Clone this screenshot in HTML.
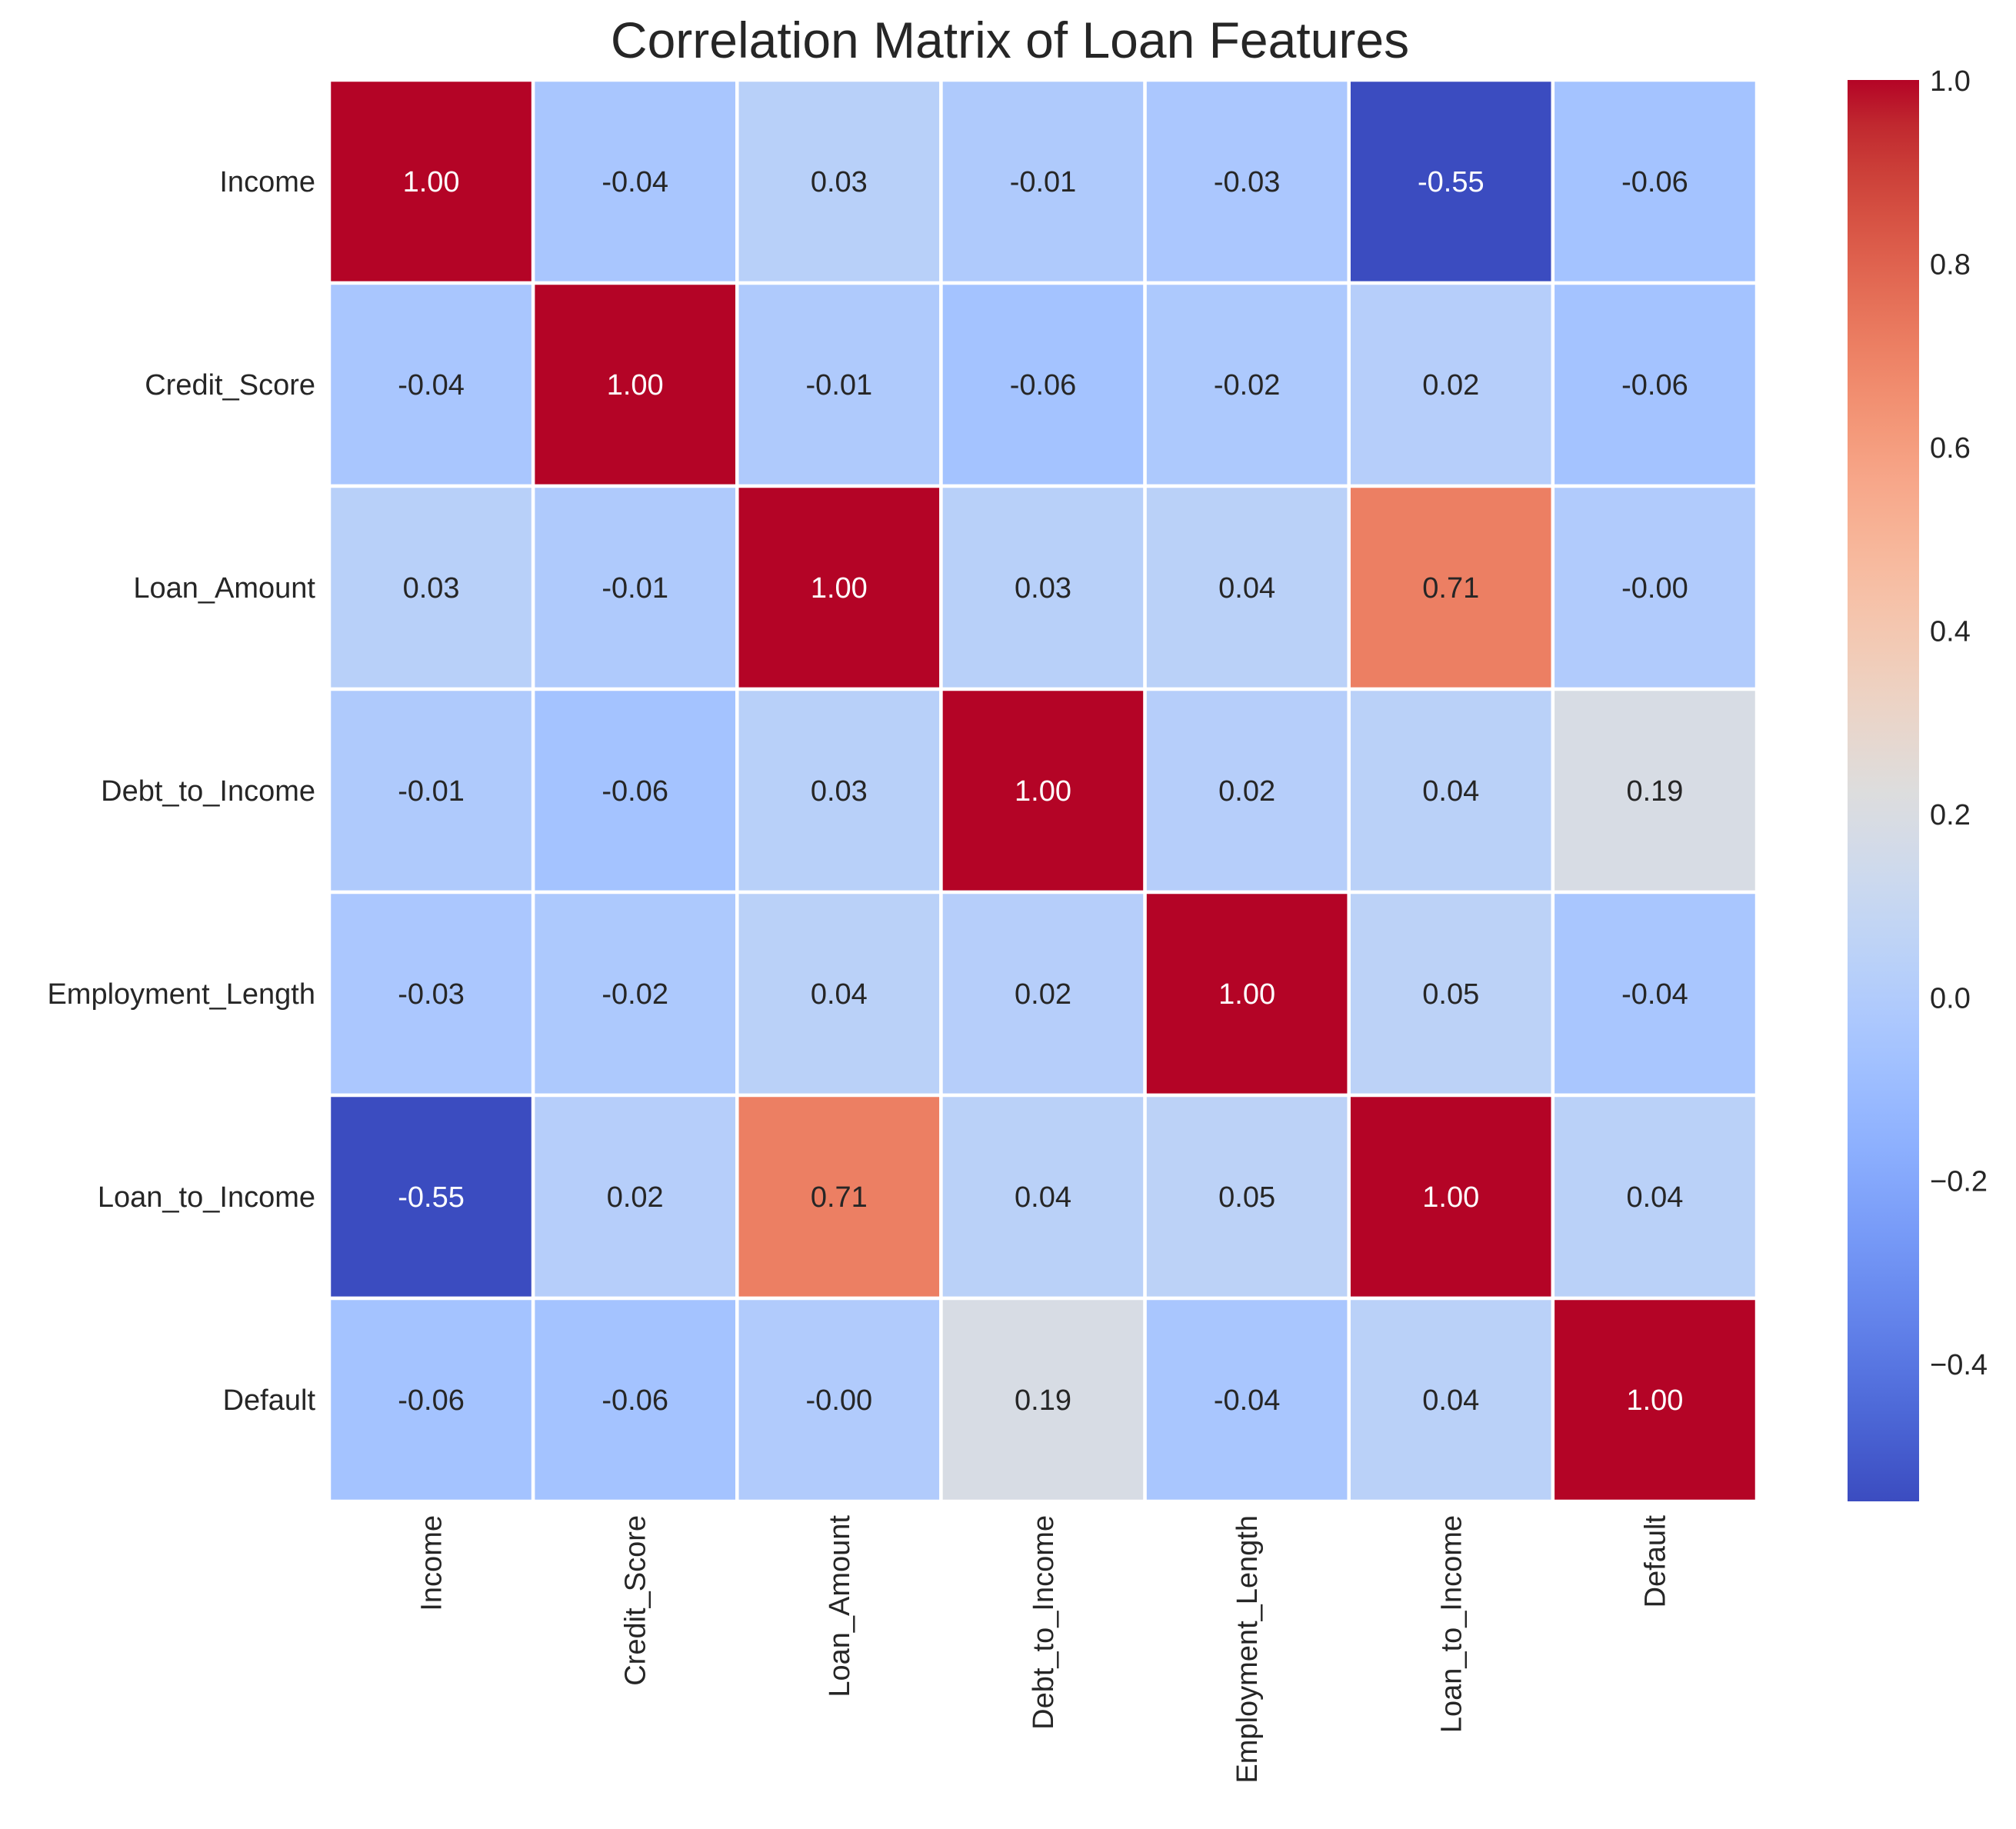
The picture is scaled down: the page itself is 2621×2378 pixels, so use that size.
<!DOCTYPE html>
<html><head><meta charset="utf-8"><style>
html,body{margin:0;padding:0;background:#fff;}
svg{display:block;font-family:"Liberation Sans",Arial,sans-serif;}
</style></head><body>
<svg id="chart" width="2621" height="2378" viewBox="0 0 2621 2378">
<defs><linearGradient id="cbgrad" x1="0" y1="1" x2="0" y2="0"></linearGradient></defs>
<text x="1313" y="75" text-anchor="middle" font-size="66" fill="#262626">Correlation Matrix of Loan Features</text>
<g id="cells"></g><g id="ylabels"></g><g id="xlabels"></g><g id="cbar"></g>
</svg>
<script>
const labels = ["Income","Credit_Score","Loan_Amount","Debt_to_Income","Employment_Length","Loan_to_Income","Default"];
const row0 = [1.00,-0.04,0.03,-0.01,-0.03,-0.55,-0.06];
const row1 = [-0.04,1.00,-0.01,-0.06,-0.02,0.02,-0.06];
const row2 = [0.03,-0.01,1.00,0.03,0.04,0.71,-0.004];
const row3 = [-0.01,-0.06,0.03,1.00,0.02,0.04,0.19];
const row4 = [-0.03,-0.02,0.04,0.02,1.00,0.05,-0.04];
const row5 = [-0.55,0.02,0.71,0.04,0.05,1.00,0.04];
const row6 = [-0.06,-0.06,-0.004,0.19,-0.04,0.04,1.00];
const matrix = [row0,row1,row2,row3,row4,row5,row6];
const cbTicks = [-0.4,-0.2,0.0,0.2,0.4,0.6,0.8,1.0];
const vmin = -0.55, vmax = 1.0;

const NS="http://www.w3.org/2000/svg";
const cmap=[[59,76,192],[68,90,204],[77,104,215],[87,117,225],[98,130,234],[108,142,241],[119,154,247],[130,165,251],[141,176,254],[152,185,255],[163,194,255],[174,201,253],[184,208,249],[194,213,244],[204,217,238],[213,219,230],[221,221,221],[229,216,209],[236,211,197],[241,204,184],[245,196,172],[247,187,160],[247,177,148],[247,166,137],[244,154,123],[241,141,111],[236,127,99],[229,112,88],[222,96,77],[213,80,66],[203,62,56],[192,40,47],[180,4,38]];
function color(v){let t=(v-vmin)/(vmax-vmin);t=Math.max(0,Math.min(1,t));const p=t*32,i=Math.min(31,Math.floor(p)),f=p-i;const a=cmap[i],b=cmap[i+1];return `rgb(${a.map((c,k)=>Math.round(c+(b[k]-c)*f)).join(',')})`;}
function lum(v){let t=(v-vmin)/(vmax-vmin);return (t<0.18||t>0.82);}
function fmt(v){let s=v.toFixed(2);if(v<0&&s.charAt(0)!=='-')s='-'+s;return s;}
const L=428,T=104,R=2284,B=1952,n=labels.length;
const cw=(R-L)/n,ch=(B-T)/n;
const xs=j=>L+j*cw, ys=i=>T+i*ch;
function mk(tag,attrs,parent){const e=document.createElementNS(NS,tag);for(const k in attrs)e.setAttribute(k,attrs[k]);parent.appendChild(e);return e;}
const gc=document.getElementById('cells');
for(let i=0;i<n;i++)for(let j=0;j<n;j++){
 const v=matrix[i][j];
 const r=mk('rect',{x:xs(j),y:ys(i),width:cw,height:ch,fill:color(v),stroke:'#fff','stroke-width':4.5},gc);
 
 
 const t=mk('text',{x:xs(j)+cw/2,y:ys(i)+ch/2+13,'text-anchor':'middle','font-size':38,fill:lum(v)?'#fff':'#262626'},gc);
 t.textContent=fmt(v);
 
 
}
const gy=document.getElementById('ylabels'),gx=document.getElementById('xlabels');
labels.forEach((lb,i)=>{
 const t=mk('text',{x:L-18,y:ys(i)+ch/2+13,'text-anchor':'end','font-size':38,fill:'#262626'},gy);
 t.textContent=lb;
 
 
 const cx=xs(i)+cw/2+13, cy=B+18;
 const u=mk('text',{x:cx,y:cy,'text-anchor':'end','font-size':38,fill:'#262626',transform:`rotate(-90 ${cx} ${cy})`},gx);
 u.textContent=lb;
 
 
});
const grad=document.getElementById('cbgrad');
cmap.forEach((c,k)=>mk('stop',{offset:(k/32),'stop-color':`rgb(${c.join(',')})`},grad));
const CX=2402,CW=93,CT=104,CB=1952;
const cy=v=>CB-(v-vmin)/(vmax-vmin)*(CB-CT);
const gcb=document.getElementById('cbar');
const cr=mk('rect',{x:CX,y:CT,width:CW,height:CB-CT,fill:'url(#cbgrad)'},gcb);


cbTicks.forEach(v=>{
 const t=mk('text',{x:CX+CW+14,y:cy(v)+14,'font-size':38,fill:'#262626'},gcb);
 t.textContent=v.toFixed(1).replace('-','\u2212');
 
 
});
</script>
</body></html>
